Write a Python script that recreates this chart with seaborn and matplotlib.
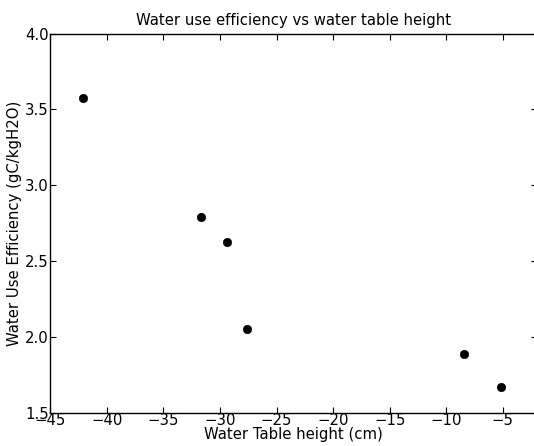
import matplotlib
matplotlib.use("Agg")
import matplotlib.pyplot as plt
import seaborn as sns
import pandas as pd

water_table = [-42.1, -31.7, -29.4, -27.6, -8.4, -5.2]
wue = [3.575, 2.79, 2.625, 2.055, 1.89, 1.67]

xticks = [-45, -40, -35, -30, -25, -20, -15, -10, -5]
yticks = [1.5, 2.0, 2.5, 3.0, 3.5, 4.0]

sns.set_style("ticks", {"xtick.direction": "in", "ytick.direction": "in",
                        "text.color": "black", "axes.labelcolor": "black",
                        "xtick.color": "black", "ytick.color": "black"})
plt.rcParams["font.family"] = ["DejaVu Sans"]

df = pd.DataFrame({"x": water_table, "y": wue})

fig = plt.figure(figsize=(5.34, 4.46), dpi=100)
left = 50.3 / 534
right = 536.8 / 534
ax = fig.add_axes([left, 1 - 413 / 446, right - left, (413 - 33.5) / 446])
sns.scatterplot(data=df, x="x", y="y", ax=ax, color="black", s=36, edgecolor="black", linewidth=0.5, zorder=3)

ax.set_xlim(-45, -2)
ax.set_ylim(1.5, 4.0)
ax.set_xticks(xticks)
ax.set_yticks(yticks)
ax.set_xticklabels([f"\u2212{abs(t)}" for t in xticks])
ax.set_yticklabels([f"{t:.1f}" for t in yticks])
ax.tick_params(axis="both", direction="in", length=4.5, width=0.8, labelsize=10.7, pad=1,
               top=True, right=True, colors="black", labelcolor="black")
ax.tick_params(axis="x", pad=0)
for s in ax.spines.values():
    s.set_visible(True)
    s.set_color("black")
    s.set_linewidth(1.0)

ax.set_xlabel("Water Table height (cm)", fontsize=10.7, labelpad=-1, color="black")
ax.set_ylabel("Water Use Efficiency (gC/kgH2O)", fontsize=10.7, labelpad=2, color="black")
ax.set_title("Water use efficiency vs water table height", fontsize=10.7, pad=6, color="black")

fig.savefig("out.png", dpi=100)
